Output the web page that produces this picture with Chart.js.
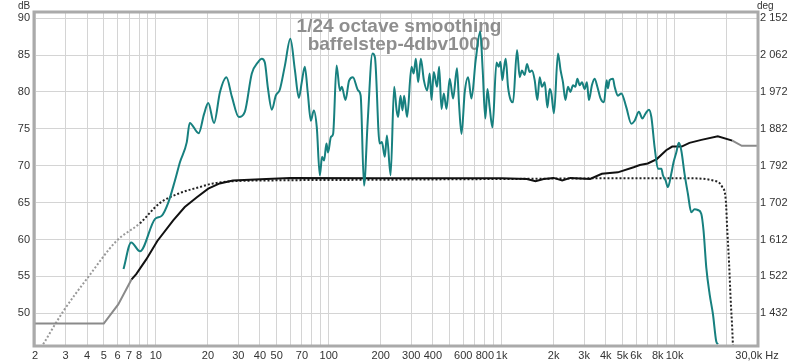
<!DOCTYPE html>
<html>
<head>
<meta charset="utf-8">
<script src="https://cdn.jsdelivr.net/npm/chart.js@4.4.1/dist/chart.umd.min.js"></script>
<style>
  html, body { margin: 0; padding: 0; background: #fff; }
</style>
</head>
<body>
<canvas id="fr" width="800" height="363"></canvas>
<script>
// measured response, 1/24 oct smoothed (teal)
const measFreq = [6.5, 7.2, 8.1, 9.9, 10.8, 11.8, 12.9, 13.8, 15.1, 15.7, 17.7, 19.0, 20.1, 21.7, 23.5, 25.6, 27.5, 30.2, 32.7, 35.9,
  38.9, 41.0, 42.7, 44.5, 46.9, 49.4, 52.1, 55.7, 60.0, 63.7, 67.2, 69.8, 72.7, 75.7, 78.8, 82.0, 85.3, 88.8, 91.5, 94.0,
  97.0, 99.1, 103, 106, 111, 116, 119, 125, 131, 138, 148, 153, 160, 168, 179, 185, 197, 203, 211, 217,
  228, 239, 247, 252, 260, 267, 273, 284, 301, 310, 319, 329, 341, 355, 371, 384, 393, 405, 423, 435,
  449, 463, 480, 501, 524, 552, 567, 586, 612, 640, 669, 708, 752, 777, 805, 828, 853, 885, 934, 962,
  984, 1010, 1032, 1056, 1089, 1128, 1164, 1228, 1272, 1311, 1359, 1402, 1453, 1498, 1553, 1610, 1660, 1712, 1774, 1840,
  1896, 1940, 2008, 2118, 2194, 2264, 2338, 2420, 2500, 2588, 2670, 2742, 2828, 2916, 3022, 3114, 3198, 3328, 3450, 3578,
  3738, 3910, 4050, 4120, 4214, 4406, 4506, 4710, 4924, 5264, 5626, 5878, 6224, 6516, 6808, 7114, 7346, 7674, 8022, 8394,
  8574, 8880, 9160, 9576, 9880, 10240, 10590, 10940, 11430, 11950, 12500, 13060, 13650, 14280, 14720, 15270, 15960, 16680, 17430, 17820];
const measDb = [56.0, 59.6, 58.4, 62.8, 63.2, 65.0, 68.0, 70.5, 73.2, 75.8, 74.4, 77.0, 78.5, 75.8, 80.0, 82.0, 79.4, 76.6, 77.3, 82.5,
  84.0, 84.5, 84.0, 80.5, 77.6, 79.5, 80.3, 83.5, 87.2, 83.0, 79.2, 81.3, 83.4, 79.8, 76.1, 77.5, 75.2, 68.7, 71.2, 70.7,
  73.0, 71.8, 73.9, 74.3, 83.6, 80.2, 80.7, 78.9, 81.5, 82.0, 80.2, 79.5, 67.3, 76.0, 85.2, 84.7, 73.0, 73.2, 71.2, 74.1,
  68.7, 80.7, 77.5, 76.6, 79.5, 77.5, 79.5, 76.6, 83.4, 82.5, 84.5, 81.3, 84.5, 81.6, 80.2, 82.5, 78.9, 82.7, 80.7, 83.4,
  77.7, 79.8, 77.7, 81.8, 79.1, 83.2, 78.4, 74.3, 80.0, 82.0, 79.1, 84.3, 88.2, 83.0, 76.4, 80.4, 77.9, 75.2, 84.0, 83.4,
  84.1, 81.6, 83.2, 84.5, 80.7, 78.9, 78.6, 85.7, 82.0, 82.9, 82.3, 83.8, 82.7, 82.9, 81.6, 78.9, 82.0, 80.7, 81.3, 77.9,
  80.4, 79.8, 77.1, 85.2, 82.9, 81.3, 78.9, 80.7, 80.0, 80.9, 80.7, 81.8, 80.9, 81.3, 80.4, 81.3, 78.9, 80.9, 81.8, 80.7,
  79.1, 78.6, 81.6, 80.5, 81.6, 81.8, 80.7, 79.5, 79.8, 77.9, 75.7, 76.1, 77.3, 76.4, 77.1, 77.6, 76.6, 72.5, 69.6, 69.6,
  68.7, 68.0, 67.1, 68.9, 70.5, 71.8, 73.1, 72.1, 68.9, 66.2, 63.7, 64.1, 64.0, 63.5, 61.2, 56.2, 52.6, 49.9, 46.2, 45.8];

// simulated curve (black, grey where extrapolated)
const simFreq = [2, 5, 6.06, 7.24, 7.7, 8.8, 10.2, 12.6, 14.7, 17.2, 20.1, 23.4, 27.9, 43.6, 60, 200, 1000, 1400, 1570, 1750,
  2000, 2240, 2500, 3250, 3800, 4700, 5800, 6300, 7000, 7900, 8950, 9700, 11000, 12200, 14300, 17800, 21600, 24500, 30000];
const simDb = [48.6, 48.6, 51.2, 54.6, 55.3, 57.3, 59.8, 62.6, 64.4, 65.7, 66.9, 67.6, 68.0, 68.2, 68.35, 68.3, 68.3, 68.2, 67.9, 68.2,
  68.35, 68.0, 68.35, 68.2, 68.9, 69.1, 69.8, 70.1, 70.3, 70.9, 72.1, 72.6, 72.6, 73.1, 73.5, 74.0, 73.4, 72.7, 72.7];

// target (dotted)
const targetFreq = [2.23, 2.92, 4.06, 5.92, 8.09, 10.5, 13.8, 17.9, 21.4, 27.9, 43.6, 200, 1000, 5000, 12000, 16700, 18900, 19800, 20200, 20700, 21100, 21600, 21800];
const targetDb = [45.8, 50.3, 54.9, 59.8, 62.2, 64.9, 66.3, 67.1, 67.6, 67.9, 68.0, 68.1, 68.2, 68.3, 68.3, 68.0, 67.1, 65.3, 61.2, 56.6, 52.1, 47.6, 45.3];

// axes
const xLabelVals = [2, 3, 4, 5, 6, 7, 8, 10, 20, 30, 40, 50, 70, 100, 200, 300, 400, 600, 800, 1000, 2000, 3000, 4000, 5000, 6000, 8000, 10000, 30000];
const xLabelText = ['2', '3', '4', '5', '6', '7', '8', '10', '20', '30', '40', '50', '70', '100', '200', '300', '400', '600', '800', '1k', '2k', '3k', '4k', '5k', '6k', '8k', '10k', '30,0k Hz'];
const dbTicks = [50, 55, 60, 65, 70, 75, 80, 85, 90];
const degTicks = [1432, 1522, 1612, 1702, 1792, 1882, 1972, 2062, 2152];
const titleLines = ['1/24 octave smoothing', 'baffelstep-4dbv1000'];

const gridFreqs = [];
[1, 10, 100, 1000, 10000].forEach(dec => {
    for (let d = 1; d <= 9; d++) {
        const f = d * dec;
        if (f >= 2 && f <= 30000) gridFreqs.push(f);
    }
});

const pts = (xs, ys) => xs.map((x, i) => ({ x: x, y: ys[i] }));
const FONT = '"Liberation Sans", Arial, sans-serif';
const GRID = '#d4d4d4';

const decorPlugin = {
    id: 'decor',
    beforeDatasetsDraw(chart) {
        const ctx = chart.ctx;
        ctx.save();
        ctx.font = 'bold 19px ' + FONT;
        ctx.fillStyle = '#8e8e8e';
        ctx.textAlign = 'center';
        ctx.textBaseline = 'alphabetic';
        ctx.fillText(titleLines[0], 399, 32);
        ctx.fillText(titleLines[1], 399, 50);
        ctx.restore();
    },
    afterDraw(chart) {
        const ctx = chart.ctx;
        const a = chart.chartArea;
        ctx.save();
        // frame round the plot
        ctx.strokeStyle = '#aaaaaa';
        ctx.lineWidth = 3;
        ctx.strokeRect(a.left - 1, a.top - 1, a.right - a.left + 2, a.bottom - a.top + 2);
        // unit labels
        ctx.font = '10px ' + FONT;
        ctx.fillStyle = '#333';
        ctx.textBaseline = 'alphabetic';
        ctx.textAlign = 'left';
        ctx.fillText('dB', 18, 9);
        ctx.fillText('deg', 757, 9);
        ctx.restore();
    }
};

new Chart(document.getElementById('fr'), {
    type: 'line',
    data: {
        datasets: [
            {
                label: 'measured',
                data: pts(measFreq, measDb),
                borderColor: '#17807f',
                borderWidth: 2,
                pointRadius: 0,
                cubicInterpolationMode: 'monotone',
                yAxisID: 'y'
            },
            {
                label: 'sim',
                data: pts(simFreq, simDb),
                borderColor: '#111',
                borderWidth: 2,
                pointRadius: 0,
                yAxisID: 'y',
                segment: {
                    borderColor: c => (c.p1.parsed.x <= 7.25 || c.p0.parsed.x >= 21600) ? '#8a8a8a' : '#111'
                }
            },
            {
                label: 'target',
                data: pts(targetFreq, targetDb),
                borderColor: '#222',
                borderWidth: 2,
                borderDash: [2, 2],
                pointRadius: 0,
                cubicInterpolationMode: 'monotone',
                yAxisID: 'y',
                segment: {
                    borderColor: c => c.p1.parsed.x <= 9 ? '#999' : '#222'
                }
            }
        ]
    },
    options: {
        responsive: false,
        animation: false,
        layout: { padding: { top: 13, left: 0, right: 0, bottom: 0 } },
        plugins: { legend: { display: false }, tooltip: { enabled: false } },
        scales: {
            x: {
                type: 'logarithmic',
                min: 2,
                max: 30000,
                border: { display: false },
                grid: { color: GRID, drawTicks: false },
                afterBuildTicks: s => { s.ticks = gridFreqs.map(v => ({ value: v })); },
                afterFit: s => { s.height = 18; },
                ticks: {
                    autoSkip: false,
                    maxRotation: 0,
                    minRotation: 0,
                    padding: 4,
                    color: '#333',
                    font: { size: 11, family: FONT },
                    callback: v => {
                        const i = xLabelVals.indexOf(v);
                        return i >= 0 ? xLabelText[i] : '';
                    }
                }
            },
            y: {
                position: 'left',
                min: 45.7,
                max: 90.7,
                border: { display: false },
                grid: { color: GRID, drawTicks: false },
                afterBuildTicks: s => { s.ticks = dbTicks.map(v => ({ value: v })); },
                afterFit: s => { s.width = 35; },
                ticks: { padding: 5, color: '#333', font: { size: 11, family: FONT } }
            },
            y2: {
                position: 'right',
                min: 1432 + (45.7 - 50) * 18,
                max: 1432 + (90.7 - 50) * 18,
                border: { display: false },
                grid: { display: false, drawTicks: false },
                afterBuildTicks: s => { s.ticks = degTicks.map(v => ({ value: v })); },
                afterFit: s => { s.width = 43; },
                ticks: {
                    padding: 3,
                    color: '#333',
                    font: { size: 11, family: FONT },
                    callback: v => String(v).replace(/\B(?=(\d{3})+(?!\d))/g, ' ')
                }
            }
        }
    },
    plugins: [decorPlugin]
});
</script>
</body>
</html>
